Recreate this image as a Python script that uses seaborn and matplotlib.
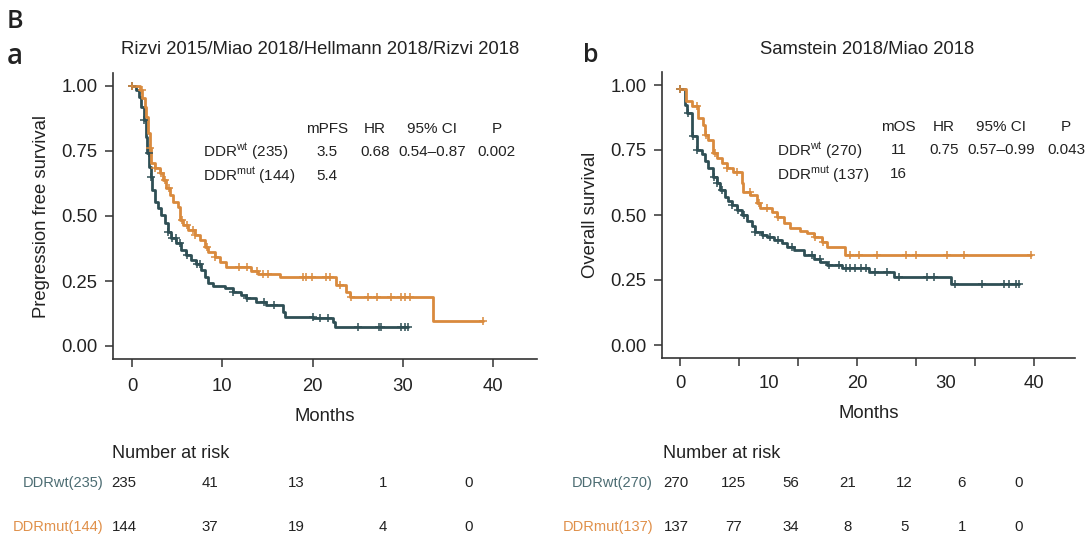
import numpy as np
import matplotlib
matplotlib.use("Agg")
import matplotlib.pyplot as plt
import seaborn as sns

# ---------------- data ----------------
# Panel a: progression free survival (step starts, last point = end of follow-up)
a_wt_t = [0, 0.48, 0.78, 1.03, 1.29, 1.51, 1.70, 1.88, 2.07, 2.25, 2.51, 2.88, 3.25, 3.62, 3.99,
          4.36, 4.91, 5.47, 6.02, 6.57, 7.13, 7.68, 8.05, 8.42, 8.97, 10.27, 11.19, 12.11, 12.67,
          13.77, 14.88, 16.73, 16.91, 20.05, 22.27, 22.45, 30.58]
a_wt_s = [1.0, 0.985, 0.959, 0.920, 0.869, 0.805, 0.741, 0.690, 0.651, 0.600, 0.555, 0.529, 0.504,
          0.472, 0.440, 0.414, 0.395, 0.369, 0.350, 0.331, 0.315, 0.292, 0.267, 0.244, 0.231, 0.222,
          0.209, 0.196, 0.183, 0.171, 0.158, 0.132, 0.113, 0.106, 0.094, 0.074, 0.074]
a_wt_cens = [0.0, 1.35, 1.85, 2.15, 4.0, 4.4, 4.9, 5.3, 6.1, 7.2, 7.5, 11.2, 12.7, 14.6, 15.7,
             20.0, 20.8, 21.7, 25.0, 27.3, 27.6, 29.8, 30.2, 30.58]

a_mut_t = [0, 0.85, 1.14, 1.40, 1.59, 1.77, 1.96, 2.14, 2.51, 3.06, 3.43, 3.80, 4.17, 4.54, 5.10,
           5.28, 5.65, 6.20, 6.94, 7.50, 8.05, 8.42, 9.16, 9.71, 10.45, 13.22, 13.96, 16.36, 22.64,
           23.74, 24.11, 33.35, 38.88]
a_mut_s = [1.0, 0.985, 0.953, 0.920, 0.882, 0.818, 0.760, 0.703, 0.683, 0.664, 0.638, 0.606, 0.581,
           0.555, 0.536, 0.485, 0.465, 0.446, 0.427, 0.408, 0.382, 0.363, 0.344, 0.324, 0.305, 0.288,
           0.277, 0.264, 0.235, 0.209, 0.190, 0.097, 0.097]
a_mut_cens = [0.0, 1.1, 2.0, 2.6, 3.2, 3.7, 4.1, 5.5, 6.1, 6.8, 7.0, 8.3, 9.2, 11.9, 12.7, 13.8,
              14.5, 15.1, 18.9, 19.3, 19.9, 21.5, 21.9, 23.0, 24.3, 26.1, 27.1, 28.7, 29.8, 30.2,
              30.8, 38.88]

# Panel b: overall survival
b_wt_t = [0, 0.57, 0.75, 1.32, 1.89, 2.45, 2.83, 3.21, 3.70, 4.15, 4.53, 5.09, 5.47, 5.85, 6.42,
          6.98, 7.55, 8.11, 8.49, 9.25, 9.81, 10.57, 11.51, 12.08, 12.83, 13.96, 15.09, 15.85,
          16.60, 18.30, 21.32, 24.15, 30.57, 38.3]
b_wt_s = [0.985, 0.925, 0.893, 0.803, 0.751, 0.735, 0.709, 0.680, 0.648, 0.622, 0.597, 0.571,
          0.554, 0.539, 0.519, 0.500, 0.477, 0.459, 0.436, 0.423, 0.414, 0.403, 0.394, 0.378,
          0.365, 0.345, 0.330, 0.320, 0.309, 0.298, 0.281, 0.262, 0.236, 0.236]
b_wt_cens = [0.0, 0.9, 1.5, 1.9, 3.8, 4.2, 4.7, 5.9, 6.6, 7.2, 8.5, 9.4, 10.2, 11.1, 12.6, 14.9,
             15.8, 16.8, 17.9, 18.7, 19.2, 19.8, 20.4, 21.0, 22.0, 23.4, 24.7, 27.9, 28.7, 31.1,
             34.1, 36.6, 37.2, 37.9, 38.3]

b_mut_t = [0, 0.68, 1.32, 2.08, 2.64, 2.83, 3.21, 3.77, 4.15, 4.72, 5.28, 6.04, 6.98, 7.17, 7.92,
           8.68, 9.06, 10.38, 10.94, 11.70, 12.45, 13.58, 14.34, 15.09, 16.04, 16.60, 18.68, 39.6]
b_mut_s = [0.985, 0.938, 0.919, 0.874, 0.848, 0.809, 0.790, 0.738, 0.719, 0.700, 0.680, 0.665,
           0.622, 0.590, 0.577, 0.545, 0.526, 0.513, 0.494, 0.468, 0.451, 0.439, 0.429, 0.416,
           0.397, 0.378, 0.345, 0.345]
b_mut_cens = [0.0, 1.9, 2.9, 4.0, 5.3, 6.4, 7.9, 8.9, 9.8, 11.1, 15.3, 16.2, 19.2, 20.2, 22.3,
              25.5, 26.7, 30.2, 32.1, 39.6]

# Number at risk
risk_times_a = [0, 10, 20, 30, 40]
risk_wt_a = [235, 41, 13, 1, 0]
risk_mut_a = [144, 37, 19, 4, 0]
risk_times_b = [0, 6.67, 13.33, 20, 26.67, 33.33, 40]
risk_wt_b = [270, 125, 56, 21, 12, 6, 0]
risk_mut_b = [137, 77, 34, 8, 5, 1, 0]

x_tick_labels = [0, 10, 20, 30, 40]
y_ticks = [0.0, 0.25, 0.50, 0.75, 1.00]

titles = ["Rizvi 2015/Miao 2018/Hellmann 2018/Rizvi 2018", "Samstein 2018/Miao 2018"]
ylabels = ["Pregression free survival", "Overall survival"]
stat_headers = [["mPFS", "HR", "95% CI", "P"], ["mOS", "HR", "95% CI", "P"]]
stat_wt = [["3.5", "0.68", "0.54\u20130.87", "0.002"], ["11", "0.75", "0.57\u20130.99", "0.043"]]
stat_mut = [["5.4"], ["16"]]
n_wt = [235, 270]
n_mut = [144, 137]

# ---------------- style ----------------
sns.set_style("ticks")
plt.rcParams["font.family"] = ["Liberation Sans", "DejaVu Sans"]
plt.rcParams["mathtext.fontset"] = "custom"
plt.rcParams["mathtext.rm"] = "Liberation Sans"
plt.rcParams["mathtext.it"] = "Liberation Sans"

C_WT = "#2f4f55"
C_MUT = "#d98a3d"
C_WT_LBL = "#4d6d73"
C_MUT_LBL = "#e0904a"
TXT = "#222222"
AX = "#333333"

W, H = 1089, 538
fig = plt.figure(figsize=(W / 100, H / 100), dpi=100)


def fx(px):
    return px / W


def fy(py):
    return 1 - py / H


def step_val(times, surv, c):
    idx = np.searchsorted(times, c, side="right") - 1
    idx = np.clip(idx, 0, len(surv) - 1)
    return np.asarray(surv)[idx]


ax_a = fig.add_axes([fx(113), fy(359), fx(537) - fx(113), fy(73) - fy(359)])
ax_b = fig.add_axes([fx(662), fy(358), fx(1075) - fx(662), fy(72) - fy(358)])

curves = [
    (ax_a, [(a_wt_t, a_wt_s, a_wt_cens, C_WT), (a_mut_t, a_mut_s, a_mut_cens, C_MUT)]),
    (ax_b, [(b_wt_t, b_wt_s, b_wt_cens, C_WT), (b_mut_t, b_mut_s, b_mut_cens, C_MUT)]),
]

for ax, series in curves:
    for t, s, cens, col in series:
        sns.lineplot(x=t, y=s, ax=ax, color=col, lw=2.0, drawstyle="steps-post",
                     estimator=None, sort=False, zorder=3)
        cy = step_val(np.asarray(t), s, np.asarray(cens))
        sns.scatterplot(x=cens, y=cy, ax=ax, marker="+", s=40, color=col,
                        linewidth=1.1, zorder=4)

for i, ax in enumerate([ax_a, ax_b]):
    ax.set_ylim(-0.05, 1.05)
    ax.set_yticks(y_ticks)
    ax.set_yticklabels([f"{v:.2f}" for v in y_ticks])
    ax.set_ylabel(ylabels[i], fontsize=13.3, color=TXT, labelpad=8)
    ax.set_xlabel("Months", fontsize=13.3, color=TXT, labelpad=9)
    for sp in ["top", "right"]:
        ax.spines[sp].set_visible(False)
    for sp in ["left", "bottom"]:
        ax.spines[sp].set_color(AX)
        ax.spines[sp].set_linewidth(1.2)
    ax.tick_params(which="both", labelsize=13.3, labelcolor=TXT, color=AX, width=1.1, length=6)
    ax.tick_params(axis="y", pad=5)
    ax.tick_params(axis="x", pad=8)
    ax.grid(False)

ax_a.set_xlim(-2.1, 44.85)
ax_a.set_xticks(x_tick_labels)
ax_a.set_xticklabels([str(v) for v in x_tick_labels])

ax_b.set_xlim(-2.03, 44.6)
ax_b.xaxis.remove_overlapping_locs = False
ax_b.set_xticks(risk_times_b)
ax_b.set_xticklabels([""] * len(risk_times_b))
ax_b.set_xticks(x_tick_labels, minor=True)
ax_b.set_xticklabels([str(v) for v in x_tick_labels], minor=True)
ax_b.tick_params(axis="x", which="minor", length=0, pad=12.5)

# statistics annotation
stat_layout = [
    dict(lbl_x=7.86, cols=[21.6, 26.9, 33.2, 40.4], rows=[0.835, 0.746, 0.654]),
    dict(lbl_x=10.96, cols=[24.7, 29.8, 36.3, 43.6], rows=[0.838, 0.749, 0.656]),
]
for i, ax in enumerate([ax_a, ax_b]):
    L = stat_layout[i]
    fs = 11
    for h, cx in zip(stat_headers[i], L["cols"]):
        ax.text(cx, L["rows"][0], h, ha="center", va="center", fontsize=fs, color=TXT)
    ax.text(L["lbl_x"], L["rows"][1], r"DDR$^{\mathrm{wt}}$" + f" ({n_wt[i]})", ha="left",
            va="center", fontsize=fs, color=TXT)
    ax.text(L["lbl_x"], L["rows"][2], r"DDR$^{\mathrm{mut}}$" + f" ({n_mut[i]})", ha="left",
            va="center", fontsize=fs, color=TXT)
    for v, cx in zip(stat_wt[i], L["cols"]):
        ax.text(cx, L["rows"][1], v, ha="center", va="center", fontsize=fs, color=TXT)
    for v, cx in zip(stat_mut[i], L["cols"]):
        ax.text(cx, L["rows"][2], v, ha="center", va="center", fontsize=fs, color=TXT)

# titles and panel letters
fig.text(fx(320), fy(49), titles[0], ha="center", va="center", fontsize=13.3, color=TXT)
fig.text(fx(867), fy(50), titles[1], ha="center", va="center", fontsize=13.3, color=TXT)
fig.text(fx(7), fy(22), "B", ha="left", va="center", fontsize=18, color=TXT,
         family=["Open Sans", "DejaVu Sans"], weight="semibold")
fig.text(fx(7), fy(57), "a", ha="left", va="center", fontsize=20, color=TXT,
         family=["Open Sans", "DejaVu Sans"], weight="semibold")
fig.text(fx(583), fy(56), "b", ha="left", va="center", fontsize=18, color=TXT,
         family=["Open Sans", "DejaVu Sans"], weight="semibold")

# number at risk tables
risk_specs = [
    (124, 469, risk_times_a, risk_wt_a, risk_mut_a, 103, 112, n_wt[0], n_mut[0]),
    (676, 1019, risk_times_b, risk_wt_b, risk_mut_b, 653, 663, n_wt[1], n_mut[1]),
]
for x0, x1, rt, rw, rm, lbl_px, hdr_px, nw, nm in risk_specs:
    rax = fig.add_axes([fx(x0), fy(538), fx(x1) - fx(x0), fy(438) - fy(538)])
    rax.set_xlim(0, 40)
    rax.set_ylim(538, 438)
    rax.axis("off")
    ppm = (x1 - x0) / 40.0
    rax.text((hdr_px - x0) / ppm, 453, "Number at risk", ha="left", va="center",
             fontsize=13, color=TXT)
    rax.text((lbl_px - x0) / ppm, 483, f"DDRwt({nw})", ha="right", va="center",
             fontsize=10.5, color=C_WT_LBL)
    rax.text((lbl_px - x0) / ppm, 527, f"DDRmut({nm})", ha="right", va="center",
             fontsize=10.5, color=C_MUT_LBL)
    for t, v in zip(rt, rw):
        rax.text(t, 483, str(v), ha="center", va="center", fontsize=10.8, color=TXT)
    for t, v in zip(rt, rm):
        rax.text(t, 527, str(v), ha="center", va="center", fontsize=10.8, color=TXT)

fig.savefig("out.png", dpi=100)
